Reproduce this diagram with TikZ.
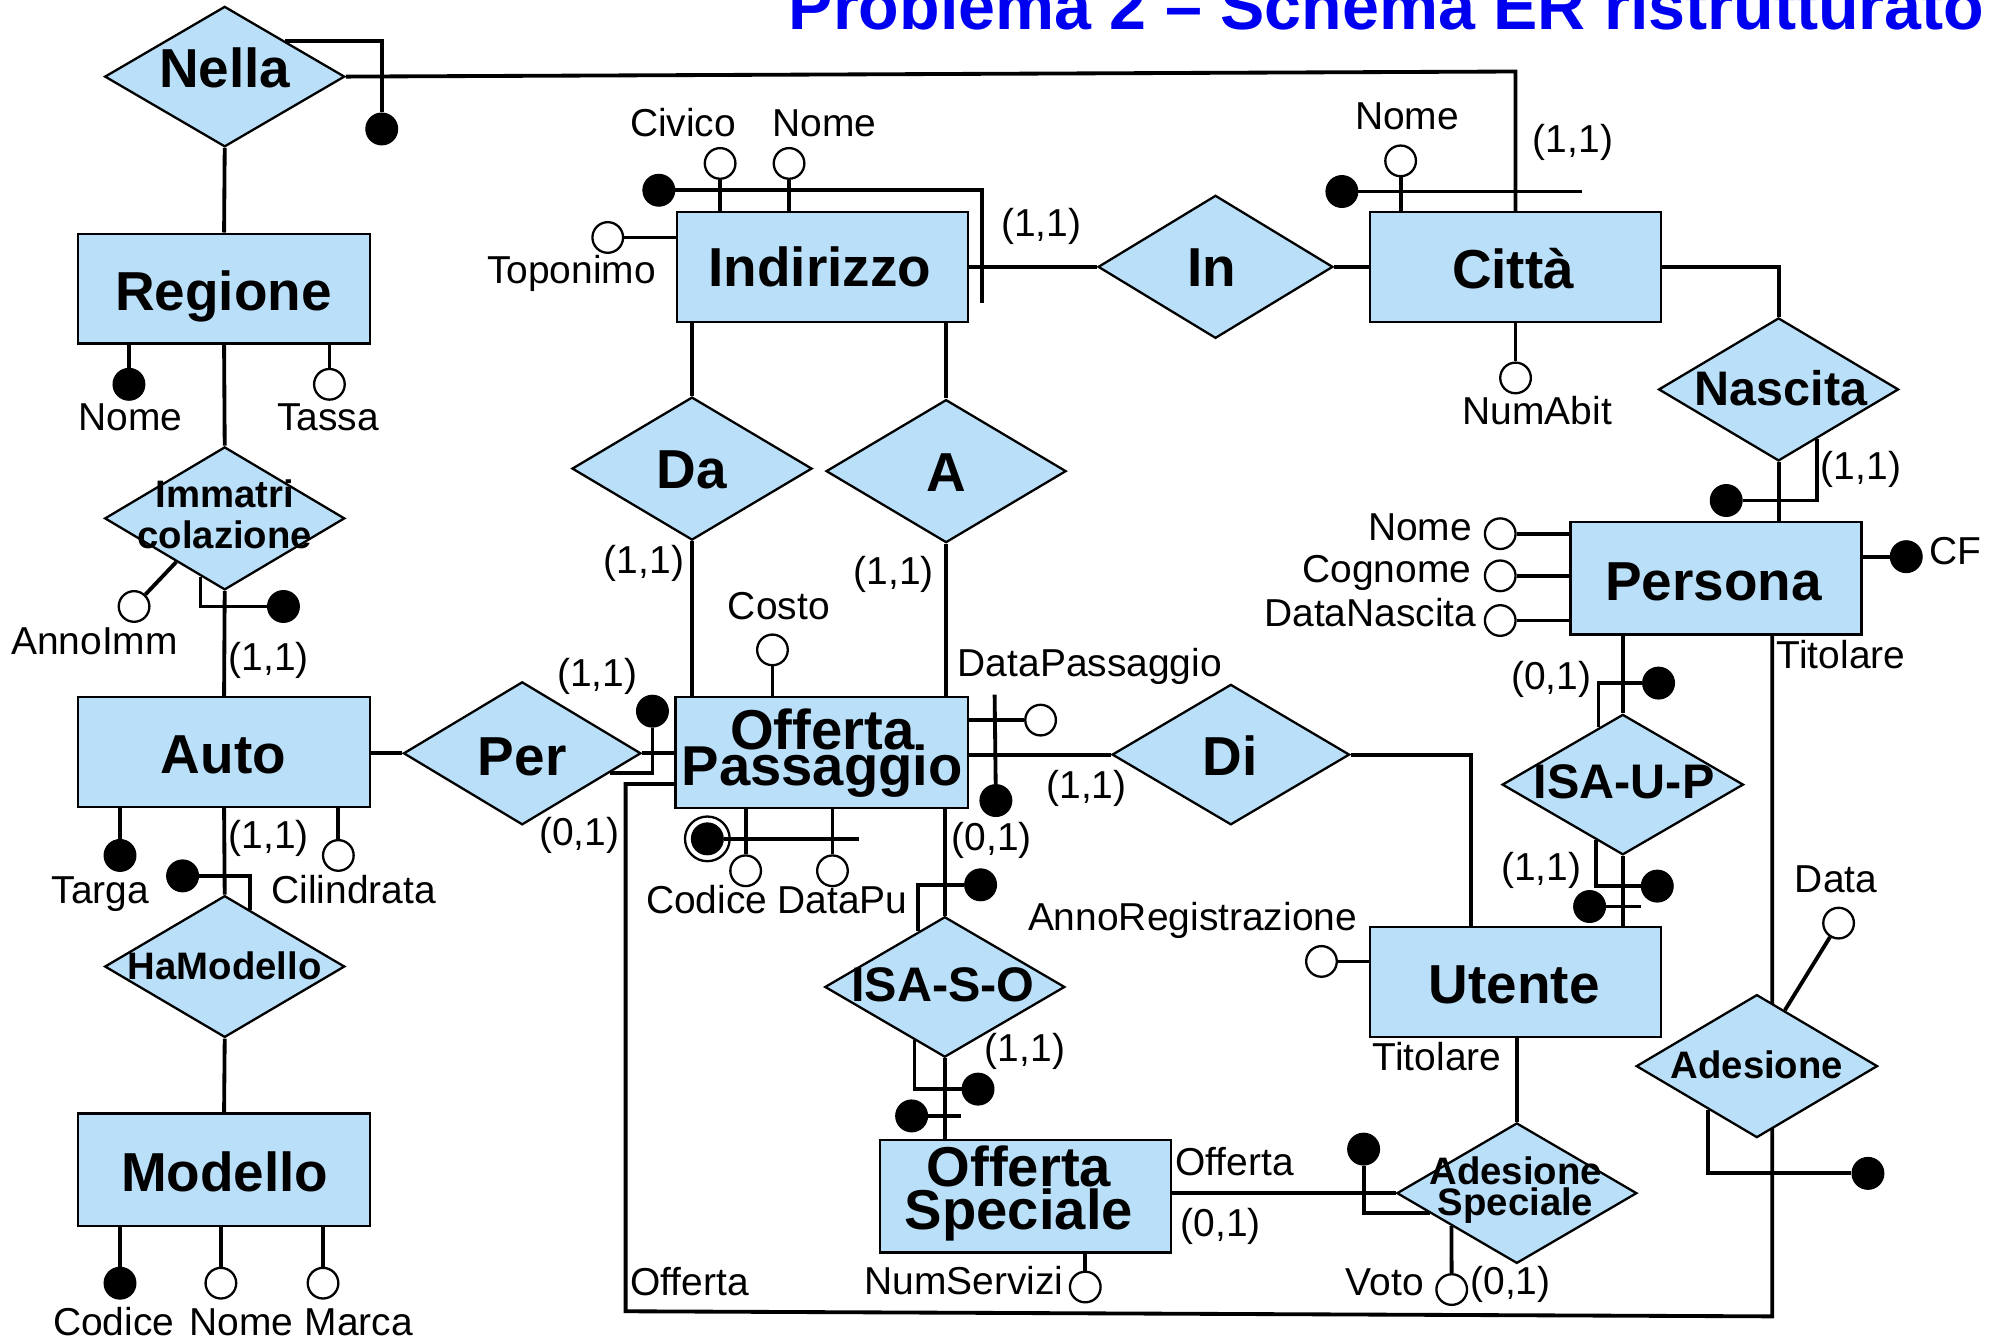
\documentclass[tikz,border=0pt]{standalone}
\usepackage{fontspec}
\setmainfont{Liberation Sans}
\usetikzlibrary{shapes.geometric,calc}
\definecolor{erblue}{RGB}{186,223,248}
\definecolor{ertitle}{RGB}{0,0,240}
\newcommand\ERbig{\fontsize{43}{43}\selectfont\bfseries}
\newcommand\ERmid{\fontsize{38}{38}\selectfont\bfseries}
\newcommand\ERsml{\fontsize{30}{30}\selectfont\bfseries}
\newcommand\ERatt{\fontsize{30.5}{30.5}\selectfont}
\newcommand\ERttl{\fontsize{52}{52}\selectfont\bfseries}
\pgfdeclarelayer{bg}
\pgfsetlayers{bg,main}
\begin{document}
\begin{tikzpicture}[x=1pt,y=-1pt,
  ent/.style={rectangle,draw,line width=1.8pt,fill=erblue,inner sep=0pt},
  rel/.style={diamond,draw,line width=1.8pt,fill=erblue,inner sep=0pt,minimum width=188pt,minimum height=111pt},
  wat/.style={circle,draw,line width=1.8pt,fill=white,inner sep=0pt,minimum size=24pt},
  bat/.style={circle,draw,line width=0.8pt,fill=black,inner sep=0pt,minimum size=25pt},
  conn/.style={line width=3pt,line join=miter},
  lbl/.style={font=\ERatt,inner sep=0pt,anchor=base},
  tbig/.style={font=\ERbig,inner sep=0pt,anchor=base},
  tmid/.style={font=\ERmid,inner sep=0pt,anchor=base},
  tsml/.style={font=\ERsml,inner sep=0pt,anchor=base},
  ttwo/.style={inner sep=0pt,anchor=center,align=center}
]
\useasboundingbox (0,0) rectangle (1568,1049);
% title
\node[font=\ERttl,text=ertitle,inner sep=0pt,anchor=base] (title) at (1086,23) {Problema 2 – Schema ER ristrutturato};

% ---------- entities
\node[ent,minimum width=229pt,minimum height=86pt] (regione) at (175.5,226) {};
\node[tbig] (regioneT) at (175,242.8) {Regione};
\node[ent,minimum width=229pt,minimum height=86pt] (auto) at (175.5,589) {};
\node[tbig] (autoT) at (175,605.7) {Auto};
\node[ent,minimum width=229pt,minimum height=88pt] (modello) at (175.5,916) {};
\node[tbig] (modelloT) at (176,933.3) {Modello};
\node[ent,minimum width=228pt,minimum height=86pt] (indirizzo) at (644,209) {};
\node[tbig] (indirizzoT) at (642,224.5) {Indirizzo};
\node[ent,minimum width=228pt,minimum height=86pt] (citta) at (1187,209) {};
\node[tbig] (cittaT) at (1185,226.2) {Città};
\node[ent,minimum width=228pt,minimum height=88pt] (persona) at (1344,453) {};
\node[tbig] (personaT) at (1342,470) {Persona};
\node[ent,minimum width=228pt,minimum height=86pt] (utente) at (1187,769) {};
\node[tbig] (utenteT) at (1186,785.8) {Utente};
\node[ent,minimum width=229pt,minimum height=87pt] (op) at (643.5,589.5) {};
\node[ttwo,font={\fontsize{44}{27.5}\selectfont\bfseries\lineskiplimit=-100pt}] (opT) at (644,589.8) {Offerta\\Passaggio};
\node[ent,minimum width=228pt,minimum height=88pt] (os) at (803,937) {};
\node[ttwo,font={\fontsize{44}{33.7}\selectfont\bfseries\lineskiplimit=-100pt}] (osT) at (798,935) {Offerta\\Speciale};

% ---------- relationships
\node[rel,minimum width=188pt,minimum height=110pt] (nella) at (176,60) {};
\node[tbig] (nellaT) at (176,68.4) {Nella};
\node[rel,minimum height=112pt] (immat) at (176,406) {};
\node[ttwo,font={\fontsize{30}{32}\selectfont\bfseries\lineskiplimit=-100pt}] (immatT) at (176,403) {Immatri\\colazione};
\node[rel] (hamod) at (176,757) {};
\node[tsml] (hamodT) at (176,767.5) {HaModello};
\node[rel,minimum width=186pt,minimum height=112pt] (per) at (409,590) {};
\node[tbig] (perT) at (409,607) {Per};
\node[rel,minimum height=112pt] (da) at (542,367) {};
\node[tbig] (daT) at (542,382.5) {Da};
\node[rel,minimum height=112pt] (arel) at (741,369) {};
\node[tbig] (arelT) at (741,385) {A};
\node[rel,minimum width=184pt,minimum height=112pt] (inrel) at (952,209) {};
\node[tbig] (inrelT) at (949,224.5) {In};
\node[rel,minimum width=186pt,minimum height=110pt] (di) at (964,591) {};
\node[tbig] (diT) at (963.5,607) {Di};
\node[rel,minimum height=112pt] (nascita) at (1393,305) {};
\node[tmid] (nascitaT) at (1395,317.3) {Nascita};
\node[rel,minimum width=189pt,minimum height=110pt] (isaup) at (1271,614.5) {};
\node[tmid] (isaupT) at (1272,625) {ISA-U-P};
\node[rel,minimum height=110pt] (isaso) at (740,773) {};
\node[tmid] (isasoT) at (738.5,784.5) {ISA-S-O};
\node[rel,minimum width=189pt,minimum height=112pt] (adesione) at (1376,835) {};
\node[tsml] (adesioneT) at (1376,845) {Adesione};
\node[rel,minimum height=110pt] (adsp) at (1188,934.5) {};
\node[ttwo,font={\fontsize{30}{24}\selectfont\bfseries\lineskiplimit=-100pt}] (adspT) at (1187,932.2) {Adesione\\Speciale};

% ---------- attribute circles and identifier dots
\node[bat] (nelladot) at (299,101) {};
\node[bat] (rnome) at (101,301) {};
\node[wat] (rtassa) at (258,301) {};
\node[wat] (annoimm) at (105,475) {};
\node[bat] (immdot) at (222,475) {};
\node[bat] (targa) at (94,670) {};
\node[wat] (cilindrata) at (265,670) {};
\node[bat] (hamdot) at (143,686) {};
\node[bat] (mcodice) at (94,1005) {};
\node[wat] (mnome) at (173,1005) {};
\node[wat] (mmarca) at (253,1005) {};
\node[wat] (civico) at (564,128) {};
\node[wat] (inome) at (618,128) {};
\node[wat] (toponimo) at (476,186) {};
\node[bat] (iddot) at (516,149) {};
\node[wat] (cnome) at (1097,126) {};
\node[bat] (cdot) at (1051,150) {};
\node[wat] (numabit) at (1187,296) {};
\node[bat] (pdot) at (1352,392) {};
\node[wat] (pnome) at (1175,418) {};
\node[wat] (pcognome) at (1175,451) {};
\node[wat] (pdatan) at (1175,486) {};
\node[bat] (cf) at (1493,436) {};
\node[bat] (iupdot1) at (1299,535) {};
\node[bat] (iupdot2) at (1298,694) {};
\node[bat] (iupdot3) at (1245,710) {};
\node[wat] (data) at (1440,723) {};
\node[bat] (addot) at (1463,919) {};
\node[wat] (annoreg) at (1035,753) {};
\node[bat] (asdot) at (1068,900) {};
\node[wat] (voto) at (1137,1010) {};
\node[wat] (numserv) at (850,1008) {};
\node[bat] (isodot1) at (766,853) {};
\node[bat] (isodot2) at (714,874) {};
\node[bat] (opdot2) at (768,693) {};
\node[wat] (costo) at (605,509) {};
\node[wat] (datapass) at (815,564) {};
\node[bat] (dpdot) at (780,627) {};
\node[wat,minimum size=35pt] (codring) at (554,657) {};
\node[bat] (coddot) at (554,657) {};
\node[wat] (codice) at (584,682) {};
\node[wat] (datapu) at (652,682) {};
\node[bat] (perdot) at (511,557) {};

% ---------- helper coordinates
\coordinate (nccorner) at (1187,56);
\coordinate (idc1) at (769,149);
\coordinate (idc2) at (769,237);
\coordinate (cid) at (1239,150);
\coordinate (udi) at (1152,591);
\coordinate (adc1) at (1388,1031);
\coordinate (adc2) at (490,1027);
\coordinate (adc3) at (490,614);
\coordinate (dpc) at (779,544);
\coordinate (codc) at (673,657);
\coordinate (iupc3) at (1285,710);
\coordinate (isoc2) at (753,874);

% ---------- labels
\node[lbl] (rnomeL) at (102,337) {Nome};
\node[lbl] (rtassaL) at (257,337) {Tassa};
\node[lbl] (annoimmL) at (74,513) {AnnoImm};
\node[lbl] (immC) at (210.6,525) {(1,1)};
\node[lbl] (autoC) at (210.6,664.6) {(1,1)};
\node[lbl] (targaL) at (78.7,707.5) {Targa};
\node[lbl] (cilL) at (277,707.5) {Cilindrata};
\node[lbl] (mcodL) at (89,1045.6) {Codice};
\node[lbl] (mnomeL) at (189,1045.6) {Nome};
\node[lbl] (mmarcaL) at (281,1045.6) {Marca};
\node[lbl] (civicoL) at (535,107) {Civico};
\node[lbl] (inomeL) at (645.7,107) {Nome};
\node[lbl,anchor=base east] (topL) at (514,222) {Toponimo};
\node[lbl] (indC) at (815.5,185.5) {(1,1)};
\node[lbl] (cnomeL) at (1102,101.7) {Nome};
\node[lbl] (cittaC) at (1232,119.8) {(1,1)};
\node[lbl] (numabitL) at (1204,332.4) {NumAbit};
\node[lbl] (nascC) at (1457.5,375.8) {(1,1)};
\node[lbl,anchor=base east] (pnomeL) at (1153,423.6) {Nome};
\node[lbl,anchor=base east] (pcogL) at (1152.5,455.9) {Cognome};
\node[lbl,anchor=base east] (pdataL) at (1156.6,490.9) {DataNascita};
\node[lbl,anchor=base west] (cfL) at (1511,442.5) {CF};
\node[lbl] (titPL) at (1442,523.2) {Titolare};
\node[lbl] (iupC1) at (1215,540) {(0,1)};
\node[lbl] (iupC2) at (1207,689.6) {(1,1)};
\node[lbl] (dataL) at (1438,699) {Data};
\node[lbl] (annoregL) at (934,728.4) {AnnoRegistrazione};
\node[lbl] (titUL) at (1125.6,838.2) {Titolare};
\node[lbl] (osOffL) at (967,920.3) {Offerta};
\node[lbl] (osC) at (956,968.6) {(0,1)};
\node[lbl] (votoL) at (1084.5,1014.9) {Voto};
\node[lbl] (votoC) at (1183,1013.7) {(0,1)};
\node[lbl] (offBL) at (540,1014.3) {Offerta};
\node[lbl,anchor=base east] (numsL) at (833,1014) {NumServizi};
\node[lbl] (costoL) at (610,485) {Costo};
\node[lbl] (dpL) at (853.6,530) {DataPassaggio};
\node[lbl] (perC1) at (467.7,538) {(1,1)};
\node[lbl] (perC2) at (453.7,662) {(0,1)};
\node[lbl] (daC) at (504.4,449.2) {(1,1)};
\node[lbl] (aC) at (700,458) {(1,1)};
\node[lbl] (diC) at (851,625.4) {(1,1)};
\node[lbl] (isoC1) at (776.8,666) {(0,1)};
\node[lbl] (opcodL) at (553.5,715.3) {Codice};
\node[lbl] (opdpuL) at (660,715.3) {DataPu};
\node[lbl] (isoC2) at (802.8,831.6) {(1,1)};

% ---------- connectors (behind shapes)
\begin{pgfonlayer}{bg}
\begin{scope}[conn]
% Nella
\draw (nella.south) -- (regione.north);
\draw (nella.north east) -- (nella.north east -| nelladot) -- (nelladot);
\draw (nella.east) -- (nccorner) -- (citta.north);
% Regione
\draw (regione.south -| rnome) -- (rnome);
\draw (regione.south -| rtassa) -- (rtassa);
\draw (regione.south) -- (immat.north);
% Immatricolazione
\draw (annoimm) -- ($(immat.west)!0.6!(immat.south)$);
\coordinate (ie) at ($(immat.west)!0.8!(immat.south)$);
\draw (ie) -- (ie |- immdot) -- (immdot);
\draw (immat.south) -- (auto.north);
% Auto
\draw (auto.south -| targa) -- (targa);
\draw (auto.south -| cilindrata) -- (cilindrata);
\draw (auto.south) -- (hamod.north);
\coordinate (he) at ($(hamod.north)!0.21!(hamod.east)$);
\draw (hamdot) -- (hamdot -| he) -- (he);
\draw (hamod.south) -- (modello.north);
\draw (modello.south -| mcodice) -- (mcodice);
\draw (modello.south -| mnome) -- (mnome);
\draw (modello.south -| mmarca) -- (mmarca);
% Per
\draw (per.west -| auto.east) -- (per.west);
\draw (per.east) -- (per.east -| op.west);
\coordinate (pe) at ($(per.east)!0.27!(per.south)$);
\draw (perdot) -- (perdot |- pe) -- (pe);
% Indirizzo
\draw (civico) -- (civico |- indirizzo.north);
\draw (inome) -- (inome |- indirizzo.north);
\draw (toponimo) -- (toponimo -| indirizzo.west);
\draw (iddot) -- (idc1) -- (idc2);
\draw (indirizzo.east) -- (inrel.west);
\draw (inrel.east) -- (citta.west);
\draw (da.north |- indirizzo.south) -- (da.north);
\draw (da.south) -- (da.south |- op.north);
\draw (arel.north |- indirizzo.south) -- (arel.north);
\draw (arel.south) -- (arel.south |- op.north);
% Citta
\draw (cnome) -- (cnome |- citta.north);
\draw (cdot) -- (cid);
\draw (citta.south) -- (numabit);
\draw (citta.east) -- (citta.east -| nascita.north) -- (nascita.north);
% Nascita / Persona
\draw (nascita.south) -- (nascita.south |- persona.north);
\coordinate (ne) at ($(nascita.south)!0.32!(nascita.east)$);
\draw (ne) -- (ne |- pdot) -- (pdot);
\draw (pnome) -- (pnome -| persona.west);
\draw (pcognome) -- (pcognome -| persona.west);
\draw (pdatan) -- (pdatan -| persona.west);
\draw (cf -| persona.east) -- (cf);
% ISA-U-P
\draw (isaup.north |- persona.south) -- (isaup.north);
\coordinate (iu1) at ($(isaup.west)!0.8!(isaup.north)$);
\draw (iu1) -- (iu1 |- iupdot1) -- (iupdot1);
\draw (isaup.south) -- (isaup.south |- utente.north);
\coordinate (iu2) at ($(isaup.west)!0.78!(isaup.south)$);
\draw (iu2) -- (iu2 |- iupdot2) -- (iupdot2);
\draw (iupdot3) -- (iupc3);
% Adesione loop (Titolare / Offerta)
\draw (adc1 |- persona.south) -- (adc1) -- (adc2) -- (adc3) -- (adc3 -| op.west);
\draw (data) -- ($(adesione.north)!0.23!(adesione.east)$);
\coordinate (ad1) at ($(adesione.west)!0.6!(adesione.south)$);
\draw (ad1) -- (ad1 |- addot) -- (addot);
% Utente
\draw (annoreg) -- (annoreg -| utente.west);
\draw (di.east) -- (udi) -- (udi |- utente.north);
\draw (adsp.north |- utente.south) -- (adsp.north);
% Adesione Speciale
\draw (adsp.west -| os.east) -- (adsp.west);
\coordinate (as1) at ($(adsp.west)!0.28!(adsp.south)$);
\draw (asdot) -- (asdot |- as1) -- (as1);
\draw (voto) -- ($(adsp.west)!0.46!(adsp.south)$);
% Offerta Speciale
\draw (numserv |- os.south) -- (numserv);
\draw (isaso.south) -- (isaso.south |- os.north);
\coordinate (io1) at ($(isaso.west)!0.75!(isaso.south)$);
\draw (io1) -- (io1 |- isodot1) -- (isodot1);
\draw (isodot2) -- (isoc2);
% Offerta Passaggio
\draw (isaso.north |- op.south) -- (isaso.north);
\coordinate (io2) at ($(isaso.west)!0.78!(isaso.north)$);
\draw (io2) -- (io2 |- opdot2) -- (opdot2);
\draw (costo) -- (costo |- op.north);
\draw (datapass -| op.east) -- (datapass);
\draw (dpc) -- (dpdot);
\draw (codice |- op.south) -- (codice);
\draw (datapu |- op.south) -- (datapu);
\draw (di.west -| op.east) -- (di.west);
\end{scope}
\end{pgfonlayer}
\draw[conn] (coddot) -- (codc);
\end{tikzpicture}
\end{document}
